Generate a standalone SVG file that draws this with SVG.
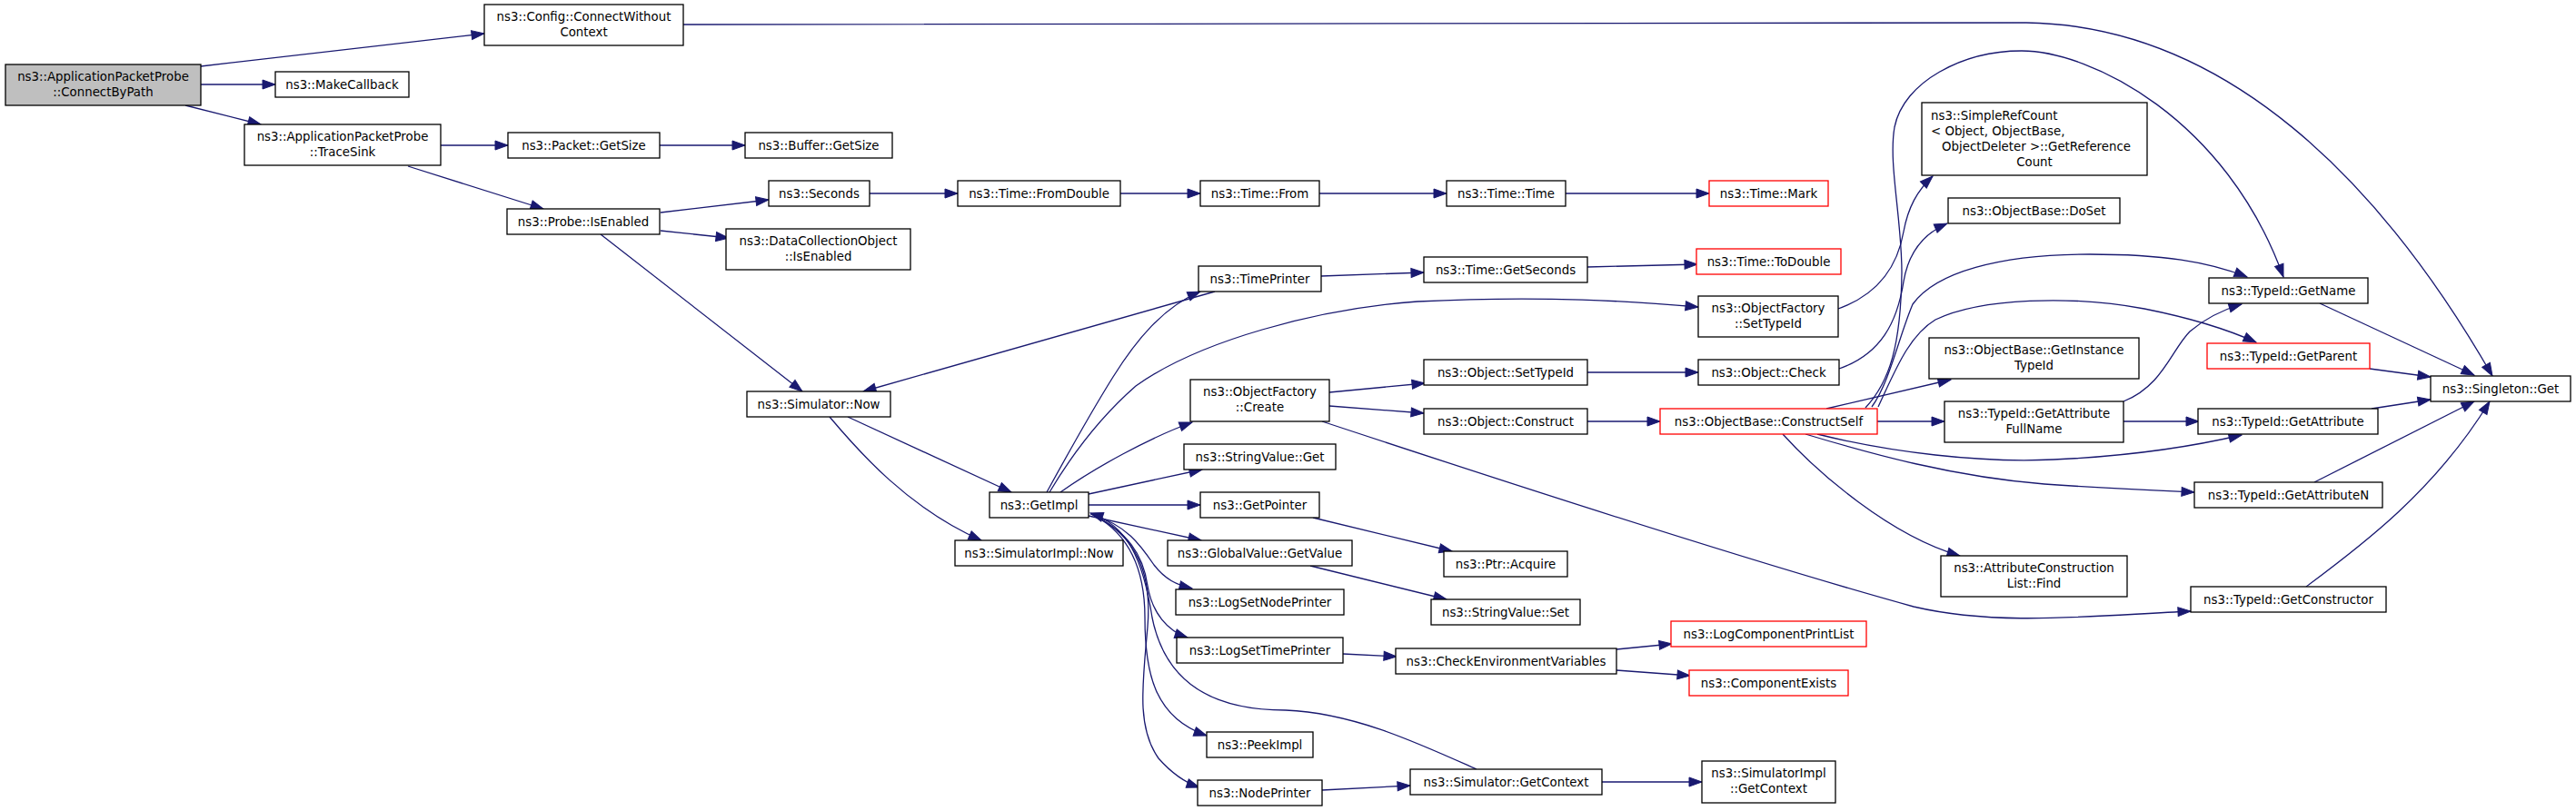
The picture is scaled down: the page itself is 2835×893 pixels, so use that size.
<svg xmlns="http://www.w3.org/2000/svg" width="2835" height="893" viewBox="0 0 2835 893">
<style>
.n rect{fill:#fff;stroke:#000;stroke-width:1.3}
.root rect{fill:#bfbfbf}
.red rect{stroke:#ff0000}
text{font-family:"DejaVu Sans","Liberation Sans",sans-serif;font-size:13.33px;text-anchor:middle;fill:#000}
text.l{text-anchor:start}
#edges path{fill:none;stroke:#191970;stroke-width:1.3;marker-end:url(#arr)}
</style>
<defs>
<marker id="arr" markerUnits="userSpaceOnUse" markerWidth="15" markerHeight="11" refX="14" refY="5" orient="auto" overflow="visible">
<path d="M0,0 L14,5 L0,10 z" fill="#191970" stroke="#191970" stroke-width="1"/>
</marker>
</defs>
<rect width="2835" height="893" fill="#fff"/>
<g id="edges">
<path d="M221,73 L533,37"/>
<path d="M221,93 L303,93"/>
<path d="M204,116 L287,137"/>
<path d="M752,27 L2230,25 C2450,28 2620,200 2743,414"/>
<path d="M485,160 L559,160"/>
<path d="M449,183 L598,230"/>
<path d="M726,160 L820,160"/>
<path d="M727,234 L846,220"/>
<path d="M727,254 L802,262"/>
<path d="M661,258 L883,431"/>
<path d="M957,213 L1054,213"/>
<path d="M1233,213 L1321,213"/>
<path d="M1452,213 L1592,213"/>
<path d="M1723,213 L1881,213"/>
<path d="M1337,321 L950,431"/>
<path d="M1454,304 L1567,300"/>
<path d="M1747,294 L1868,291"/>
<path d="M933,459 L1113,542"/>
<path d="M913,459 C945,497 1000,560 1080,595"/>
<path d="M1152,542 C1175,500 1200,455 1225,415 C1250,375 1280,338 1321,321"/>
<path d="M1155,542 C1180,500 1210,460 1250,425 C1320,375 1450,340 1560,332 C1700,325 1800,332 1869,338"/>
<path d="M1167,542 C1205,515 1265,482 1312,465"/>
<path d="M1198,544 L1323,517"/>
<path d="M1198,556 L1321,556"/>
<path d="M1198,568 L1322,595"/>
<path d="M1200,566 C1240,578 1255,600 1270,622 C1282,638 1295,644 1312,648"/>
<path d="M1203,567 C1240,585 1258,610 1263,645 C1268,675 1285,695 1307,702"/>
<path d="M1205,568 C1245,590 1260,630 1260,680 C1260,740 1270,790 1328,810"/>
<path d="M1203,567 C1250,590 1268,630 1263,690 C1258,750 1250,800 1275,835 C1290,852 1305,862 1320,867"/>
<path d="M1625,847 C1560,818 1490,785 1415,782 C1320,782 1280,740 1268,680 C1258,615 1240,578 1200,565"/>
<path d="M1463,432 L1568,422"/>
<path d="M1463,447 L1567,455"/>
<path d="M1455,464 C1700,545 1950,625 2106,668 C2200,690 2300,678 2411,673"/>
<path d="M2023,340 C2065,325 2088,295 2095,255 C2100,228 2110,210 2127,194"/>
<path d="M1747,410 L1869,410"/>
<path d="M2024,406 C2070,390 2088,355 2095,310 C2100,280 2115,258 2143,246"/>
<path d="M1747,464 L1827,464"/>
<path d="M2053,449 C2080,420 2092,380 2093,300 C2093,240 2078,180 2085,140 C2095,90 2160,56 2225,56 C2300,56 2450,130 2513,305"/>
<path d="M2060,448 C2080,420 2090,370 2105,335 C2130,300 2200,280 2300,280 C2380,280 2430,288 2473,305"/>
<path d="M2067,448 C2085,410 2100,370 2130,352 C2180,328 2280,325 2360,340 C2410,350 2450,362 2483,377"/>
<path d="M2010,450 L2147,418"/>
<path d="M2066,464 L2140,464"/>
<path d="M2000,478 C2080,498 2180,510 2260,506 C2350,502 2420,490 2467,479"/>
<path d="M1987,478 C2060,500 2150,525 2250,533 C2320,538 2370,540 2415,542"/>
<path d="M1962,478 C2000,520 2080,590 2157,612"/>
<path d="M2337,464 L2420,464"/>
<path d="M2337,442 C2380,425 2390,385 2410,365 C2430,348 2450,340 2467,335"/>
<path d="M2553,334 L2723,413"/>
<path d="M2608,406 L2675,415"/>
<path d="M2610,450 L2675,440"/>
<path d="M2547,531 L2723,442"/>
<path d="M2538,646 C2600,600 2680,540 2740,442"/>
<path d="M1445,570 L1598,607"/>
<path d="M1442,623 L1592,660"/>
<path d="M1478,720 L1537,723"/>
<path d="M1779,715 L1840,709"/>
<path d="M1779,738 L1860,744"/>
<path d="M1455,870 L1552,865"/>
<path d="M1763,861 L1873,861"/>
</g>
<g id="n_connectbypath" class="n root"><rect x="6" y="71" width="215" height="45"/><text x="113.5" y="89">ns3::ApplicationPacketProbe</text><text x="113.5" y="106">::ConnectByPath</text></g>
<g id="n_config" class="n"><rect x="533" y="5" width="219" height="45"/><text x="642.5" y="23">ns3::Config::ConnectWithout</text><text x="642.5" y="40">Context</text></g>
<g id="n_makecallback" class="n"><rect x="303" y="79" width="147" height="28"/><text x="376.5" y="97.5">ns3::MakeCallback</text></g>
<g id="n_tracesink" class="n"><rect x="269" y="137" width="216" height="45"/><text x="377" y="155">ns3::ApplicationPacketProbe</text><text x="377" y="172">::TraceSink</text></g>
<g id="n_packet_getsize" class="n"><rect x="559" y="146" width="167" height="28"/><text x="642.5" y="164.5">ns3::Packet::GetSize</text></g>
<g id="n_buffer_getsize" class="n"><rect x="820" y="146" width="162" height="28"/><text x="901" y="164.5">ns3::Buffer::GetSize</text></g>
<g id="n_probe_isenabled" class="n"><rect x="558" y="230" width="168" height="28"/><text x="642" y="248.5">ns3::Probe::IsEnabled</text></g>
<g id="n_seconds" class="n"><rect x="846" y="199" width="111" height="28"/><text x="901.5" y="217.5">ns3::Seconds</text></g>
<g id="n_dco_isenabled" class="n"><rect x="799" y="252" width="203" height="45"/><text x="900.5" y="270">ns3::DataCollectionObject</text><text x="900.5" y="287">::IsEnabled</text></g>
<g id="n_simulator_now" class="n"><rect x="822" y="431" width="158" height="28"/><text x="901" y="449.5">ns3::Simulator::Now</text></g>
<g id="n_simimpl_now" class="n"><rect x="1051" y="595" width="185" height="28"/><text x="1143.5" y="613.5">ns3::SimulatorImpl::Now</text></g>
<g id="n_getimpl" class="n"><rect x="1089" y="542" width="109" height="28"/><text x="1143.5" y="560.5">ns3::GetImpl</text></g>
<g id="n_fromdouble" class="n"><rect x="1054" y="199" width="179" height="28"/><text x="1143.5" y="217.5">ns3::Time::FromDouble</text></g>
<g id="n_time_from" class="n"><rect x="1321" y="199" width="131" height="28"/><text x="1386.5" y="217.5">ns3::Time::From</text></g>
<g id="n_time_time" class="n"><rect x="1592" y="199" width="131" height="28"/><text x="1657.5" y="217.5">ns3::Time::Time</text></g>
<g id="n_time_mark" class="n red"><rect x="1881" y="199" width="131" height="28"/><text x="1946.5" y="217.5">ns3::Time::Mark</text></g>
<g id="n_timeprinter" class="n"><rect x="1319" y="293" width="135" height="28"/><text x="1386.5" y="311.5">ns3::TimePrinter</text></g>
<g id="n_getseconds" class="n"><rect x="1567" y="283" width="180" height="28"/><text x="1657" y="301.5">ns3::Time::GetSeconds</text></g>
<g id="n_todouble" class="n red"><rect x="1867" y="274" width="159" height="28"/><text x="1946.5" y="292.5">ns3::Time::ToDouble</text></g>
<g id="n_of_settypeid" class="n"><rect x="1869" y="326" width="154" height="45"/><text x="1946" y="344">ns3::ObjectFactory</text><text x="1946" y="361">::SetTypeId</text></g>
<g id="n_obj_settypeid" class="n"><rect x="1567" y="396" width="180" height="28"/><text x="1657" y="414.5">ns3::Object::SetTypeId</text></g>
<g id="n_obj_check" class="n"><rect x="1869" y="396" width="155" height="28"/><text x="1946.5" y="414.5">ns3::Object::Check</text></g>
<g id="n_of_create" class="n"><rect x="1310" y="418" width="153" height="46"/><text x="1386.5" y="436">ns3::ObjectFactory</text><text x="1386.5" y="453">::Create</text></g>
<g id="n_obj_construct" class="n"><rect x="1567" y="450" width="180" height="28"/><text x="1657" y="468.5">ns3::Object::Construct</text></g>
<g id="n_constructself" class="n red"><rect x="1827" y="450" width="239" height="28"/><text x="1946.5" y="468.5">ns3::ObjectBase::ConstructSelf</text></g>
<g id="n_stringvalue_get" class="n"><rect x="1303" y="489" width="167" height="28"/><text x="1386.5" y="507.5">ns3::StringValue::Get</text></g>
<g id="n_getpointer" class="n"><rect x="1321" y="542" width="131" height="28"/><text x="1386.5" y="560.5">ns3::GetPointer</text></g>
<g id="n_globalvalue_getvalue" class="n"><rect x="1285" y="595" width="203" height="28"/><text x="1386.5" y="613.5">ns3::GlobalValue::GetValue</text></g>
<g id="n_logsetnodeprinter" class="n"><rect x="1294" y="649" width="185" height="28"/><text x="1386.5" y="667.5">ns3::LogSetNodePrinter</text></g>
<g id="n_logsettimeprinter" class="n"><rect x="1295" y="702" width="183" height="28"/><text x="1386.5" y="720.5">ns3::LogSetTimePrinter</text></g>
<g id="n_peekimpl" class="n"><rect x="1328" y="806" width="117" height="28"/><text x="1386.5" y="824.5">ns3::PeekImpl</text></g>
<g id="n_nodeprinter" class="n"><rect x="1318" y="859" width="137" height="28"/><text x="1386.5" y="877.5">ns3::NodePrinter</text></g>
<g id="n_ptr_acquire" class="n"><rect x="1589" y="607" width="136" height="28"/><text x="1657" y="625.5">ns3::Ptr::Acquire</text></g>
<g id="n_stringvalue_set" class="n"><rect x="1575" y="660" width="164" height="28"/><text x="1657" y="678.5">ns3::StringValue::Set</text></g>
<g id="n_checkenv" class="n"><rect x="1536" y="714" width="243" height="28"/><text x="1657.5" y="732.5">ns3::CheckEnvironmentVariables</text></g>
<g id="n_logcomponentprintlist" class="n red"><rect x="1839" y="684" width="215" height="28"/><text x="1946.5" y="702.5">ns3::LogComponentPrintList</text></g>
<g id="n_componentexists" class="n red"><rect x="1859" y="738" width="175" height="28"/><text x="1946.5" y="756.5">ns3::ComponentExists</text></g>
<g id="n_sim_getcontext" class="n"><rect x="1552" y="847" width="211" height="28"/><text x="1657.5" y="865.5">ns3::Simulator::GetContext</text></g>
<g id="n_simimpl_getcontext" class="n"><rect x="1873" y="838" width="147" height="46"/><text x="1946.5" y="856">ns3::SimulatorImpl</text><text x="1946.5" y="873">::GetContext</text></g>
<g id="n_simplerefcount" class="n"><rect x="2115" y="113" width="248" height="80"/><text class="l" x="2125" y="131.5">ns3::SimpleRefCount</text><text class="l" x="2125" y="148.5">&lt; Object, ObjectBase,</text><text x="2241" y="165.5">ObjectDeleter &gt;::GetReference</text><text x="2239" y="182.5">Count</text></g>
<g id="n_doset" class="n"><rect x="2144" y="218" width="189" height="28"/><text x="2238.5" y="236.5">ns3::ObjectBase::DoSet</text></g>
<g id="n_getinstancetypeid" class="n"><rect x="2123" y="372" width="231" height="45"/><text x="2238.5" y="390">ns3::ObjectBase::GetInstance</text><text x="2238.5" y="407">TypeId</text></g>
<g id="n_getattributefullname" class="n"><rect x="2140" y="442" width="197" height="45"/><text x="2238.5" y="460">ns3::TypeId::GetAttribute</text><text x="2238.5" y="477">FullName</text></g>
<g id="n_acl_find" class="n"><rect x="2136" y="612" width="205" height="45"/><text x="2238.5" y="630">ns3::AttributeConstruction</text><text x="2238.5" y="647">List::Find</text></g>
<g id="n_getname" class="n"><rect x="2431" y="306" width="175" height="28"/><text x="2518.5" y="324.5">ns3::TypeId::GetName</text></g>
<g id="n_getparent" class="n red"><rect x="2429" y="378" width="179" height="28"/><text x="2518.5" y="396.5">ns3::TypeId::GetParent</text></g>
<g id="n_singleton_get" class="n"><rect x="2675" y="414" width="154" height="28"/><text x="2752" y="432.5">ns3::Singleton::Get</text></g>
<g id="n_getattribute" class="n"><rect x="2419" y="450" width="198" height="28"/><text x="2518" y="468.5">ns3::TypeId::GetAttribute</text></g>
<g id="n_getattributen" class="n"><rect x="2415" y="531" width="207" height="28"/><text x="2518.5" y="549.5">ns3::TypeId::GetAttributeN</text></g>
<g id="n_getconstructor" class="n"><rect x="2411" y="646" width="215" height="28"/><text x="2518.5" y="664.5">ns3::TypeId::GetConstructor</text></g>
</svg>
